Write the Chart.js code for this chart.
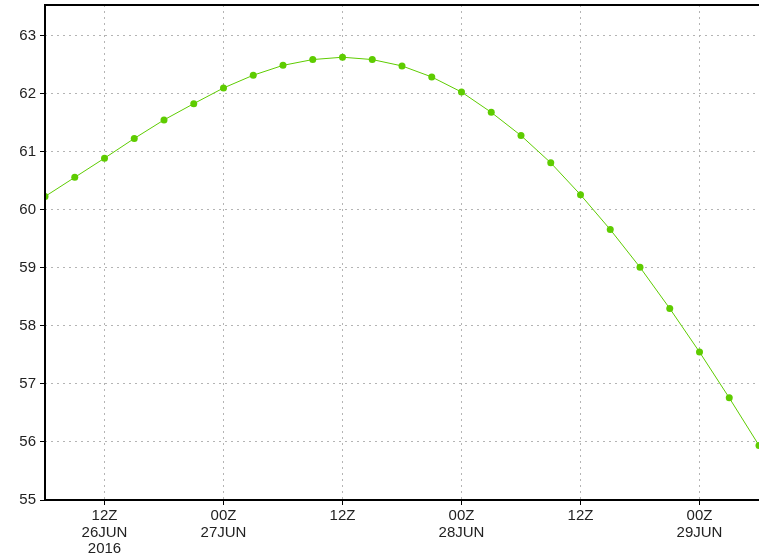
<!DOCTYPE html>
<html>
<head>
  <meta charset="utf-8">
  <script src="https://cdn.jsdelivr.net/npm/chart.js@4/dist/chart.umd.min.js"></script>
  <style>
    html, body { margin: 0; padding: 0; background: #ffffff; }
    #wrap { width: 759px; height: 554px; position: relative; }
  </style>
</head>
<body>
<div id="wrap"><canvas id="chart"></canvas></div>
<script>
// hours after 06Z 26JUN2016, one point every 3 hours
const hours = [0, 3, 6, 9, 12, 15, 18, 21, 24, 27, 30, 33, 36, 39, 42, 45, 48, 51, 54, 57, 60, 63, 66, 69, 72];
const values = [
  60.23, 60.56, 60.89, 61.23, 61.55, 61.83, 62.10, 62.32, 62.49, 62.59,
  62.63, 62.59, 62.48, 62.29, 62.03, 61.68, 61.28, 60.81, 60.26, 59.66,
  59.01, 58.30, 57.55, 56.76, 55.94
];
const tickHours = [6, 18, 30, 42, 54, 66];
const tickLabels = [
  ['12Z', '26JUN', '2016'],
  ['00Z', '27JUN'],
  ['12Z'],
  ['00Z', '28JUN'],
  ['12Z'],
  ['00Z', '29JUN']
];
const yTicks = [55, 56, 57, 58, 59, 60, 61, 62, 63];

const GREEN = '#5ecc00';
const GRID = '#b4b4b4';
const FONT = { family: '"Liberation Sans", Arial, sans-serif', size: 15, lineHeight: 1.1 };

// black frame: left, top and bottom edges of the plot
const framePlugin = {
  id: 'frame',
  afterDraw(chart) {
    const { ctx, chartArea: a } = chart;
    ctx.save();
    ctx.strokeStyle = '#000';
    ctx.lineWidth = 2;
    ctx.beginPath();
    ctx.moveTo(a.left, a.bottom);
    ctx.lineTo(a.left, a.top);
    ctx.lineTo(a.right + 2, a.top);
    ctx.moveTo(a.left, a.bottom);
    ctx.lineTo(a.right + 2, a.bottom);
    ctx.stroke();
    ctx.restore();
  }
};

const config = {
  type: 'line',
  data: {
    datasets: [{
      data: hours.map((h, i) => ({ x: h, y: values[i] })),
      borderColor: GREEN,
      borderWidth: 1,
      pointRadius: 3.5,
      pointBackgroundColor: GREEN,
      pointBorderWidth: 0,
      tension: 0,
      fill: false
    }]
  },
  options: {
    animation: false,
    responsive: true,
    maintainAspectRatio: false,
    layout: { autoPadding: false, padding: { top: 5, right: 0, left: 0, bottom: 0 } },
    plugins: { legend: { display: false }, tooltip: { enabled: false } },
    scales: {
      x: {
        type: 'linear',
        min: 0,
        max: 72,
        afterBuildTicks: s => { s.ticks = tickHours.map(v => ({ value: v })); },
        afterFit: s => { s.height = 54; s.paddingLeft = 0; s.paddingRight = 0; },
        grid: { color: GRID, lineWidth: 1, tickColor: '#000', tickLength: 5, tickWidth: 1 },
        border: { display: false, dash: [2, 4] },
        ticks: {
          color: '#222',
          font: FONT,
          padding: 3,
          maxRotation: 0,
          autoSkip: false,
          callback: v => tickLabels[tickHours.indexOf(v)] || ''
        }
      },
      y: {
        min: 55,
        max: 63.53,
        afterBuildTicks: s => { s.ticks = yTicks.map(v => ({ value: v })); },
        afterFit: s => { s.width = 45; s.paddingTop = 0; s.paddingBottom = 0; },
        grid: { color: GRID, lineWidth: 1, tickColor: '#000', tickLength: 5, tickWidth: 1 },
        border: { display: false, dash: [2, 4] },
        ticks: { color: '#222', font: FONT, padding: 4 }
      }
    }
  },
  plugins: [framePlugin]
};

new Chart(document.getElementById('chart').getContext('2d'), config);
</script>
</body>
</html>
